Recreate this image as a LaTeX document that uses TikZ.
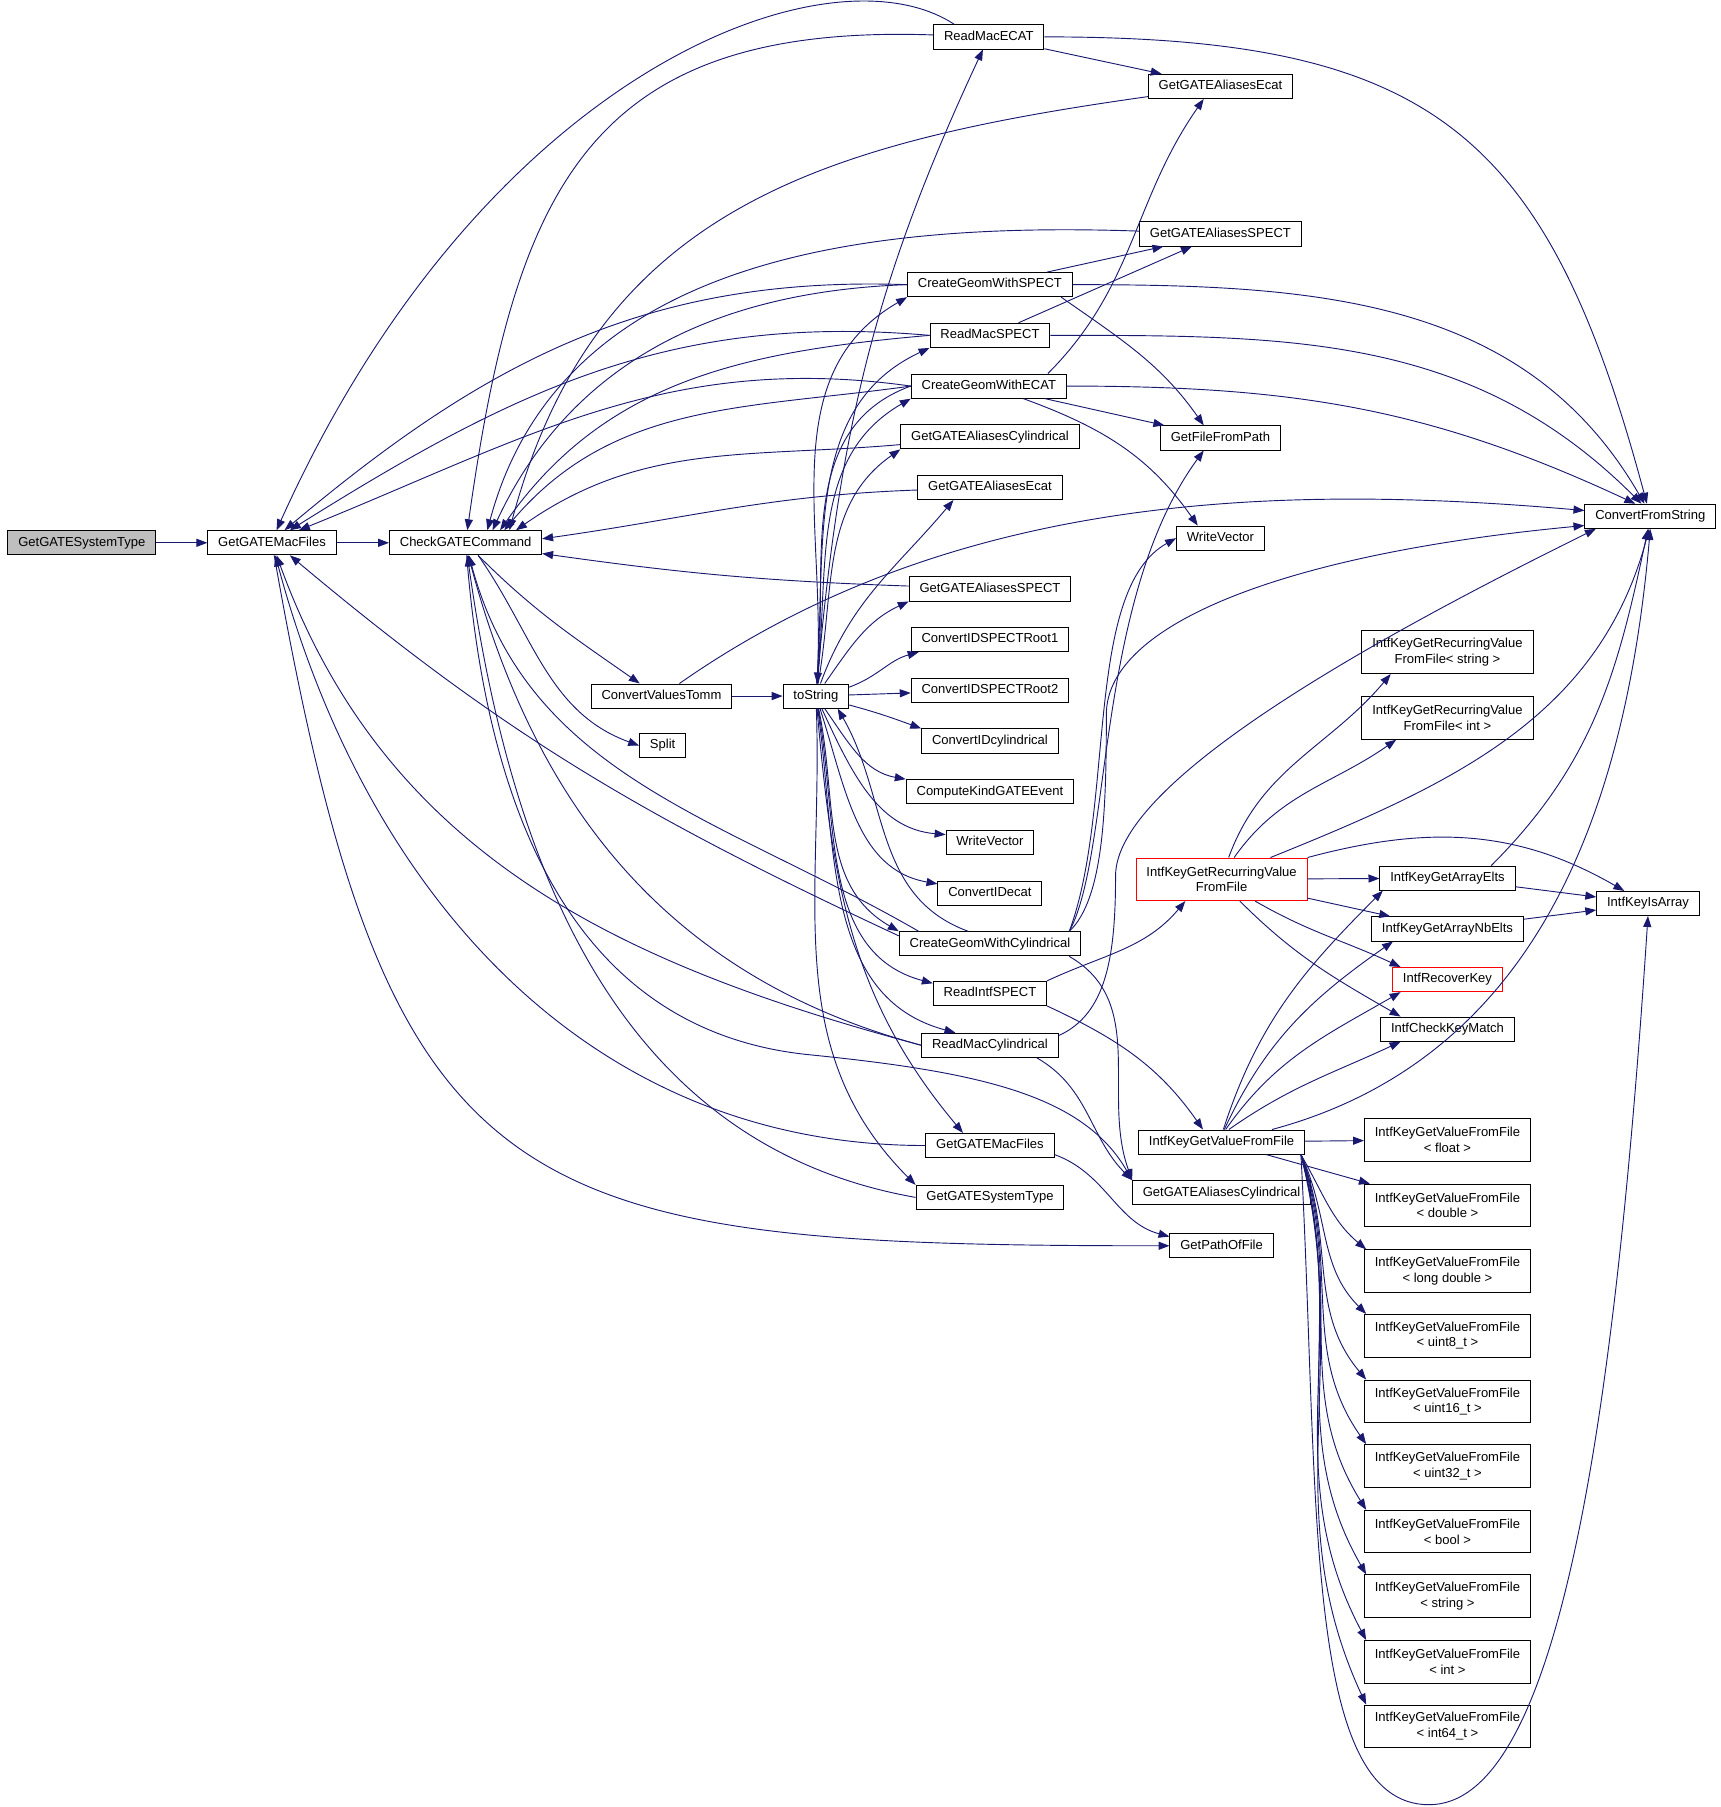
\documentclass[tikz,border=0pt]{standalone}
\usepackage{fontspec}
\setmainfont{Liberation Sans}
\usetikzlibrary{arrows.meta}
\definecolor{navy}{HTML}{191970}
\tikzset{
	-{Triangle[length=9.5pt,width=7pt]},
	every path/.style={line width=0.8pt},
	fn/.style={rectangle, draw, fill=white, inner xsep=9pt, minimum height=21pt, text height=8.2pt, text depth=2.4pt, font=\fontsize{11.3}{13.5}\selectfont},
	fntwo/.style={rectangle, draw, fill=white, inner xsep=9pt, minimum height=37pt, align=center, font=\fontsize{11.3}{13.5}\selectfont},
	root/.style={fn, fill=black!25},
	bad/.style={draw=red}
}

\begin{document}
\begin{tikzpicture}[x=1pt,y=1pt]
	\useasboundingbox (0,0) rectangle (1493,-1568);
	% Nodes
	\node[root] (1) at (71,-471) {GetGATESystemType};
	\node[fn] (2) at (236,-471) {GetGATEMacFiles};
	\node[fn] (3) at (404,-471) {CheckGATECommand};
	\node[fn] (4) at (858,-32) {ReadMacECAT};
	\node[fn] (5) at (1059,-75) {GetGATEAliasesEcat};
	\node[fn] (6) at (1059,-203) {GetGATEAliasesSPECT};
	\node[fn] (7) at (859,-247) {CreateGeomWithSPECT};
	\node[fn] (8) at (859,-291) {ReadMacSPECT};
	\node[fn] (9) at (858,-335) {CreateGeomWithECAT};
	\node[fn] (10) at (859,-379) {GetGATEAliasesCylindrical};
	\node[fn] (11) at (859,-423) {GetGATEAliasesEcat};
	\node[fn] (12) at (859,-511) {GetGATEAliasesSPECT};
	\node[fn] (13) at (859,-555) {ConvertIDSPECTRoot1};
	\node[fn] (14) at (859,-599) {ConvertIDSPECTRoot2};
	\node[fn] (15) at (859,-643) {ConvertIDcylindrical};
	\node[fn] (16) at (859,-687) {ComputeKindGATEEvent};
	\node[fn] (17) at (859,-731) {WriteVector};
	\node[fn] (18) at (859,-775) {ConvertIDecat};
	\node[fn] (19) at (859,-819) {CreateGeomWithCylindrical};
	\node[fn] (20) at (859,-862) {ReadIntfSPECT};
	\node[fn] (21) at (859,-907) {ReadMacCylindrical};
	\node[fn] (22) at (859,-994) {GetGATEMacFiles};
	\node[fn] (23) at (859,-1039) {GetGATESystemType};
	\node[fn] (24) at (574,-604) {ConvertValuesTomm};
	\node[fn] (25) at (708,-604) {toString};
	\node[fn] (26) at (575,-647) {Split};
	\node[fn] (27) at (1059,-380) {GetFileFromPath};
	\node[fn] (28) at (1059,-467) {WriteVector};
	\node[fn] (29) at (1432,-448) {ConvertFromString};
	\node[fntwo] (30) at (1256,-566) {IntfKeyGetRecurringValue\\FromFile< string >};
	\node[fntwo] (31) at (1256,-623) {IntfKeyGetRecurringValue\\FromFile< int >};
	\node[fntwo, bad] (32) at (1060,-763) {IntfKeyGetRecurringValue\\FromFile};
	\node[fn] (33) at (1256,-762) {IntfKeyGetArrayElts};
	\node[fn] (34) at (1430,-784) {IntfKeyIsArray};
	\node[fn] (35) at (1256,-806) {IntfKeyGetArrayNbElts};
	\node[fn, bad] (36) at (1256,-850) {IntfRecoverKey};
	\node[fn] (37) at (1256,-893) {IntfCheckKeyMatch};
	\node[fn] (38) at (1060,-991) {IntfKeyGetValueFromFile};
	\node[fn] (39) at (1060,-1035) {GetGATEAliasesCylindrical};
	\node[fn] (40) at (1060,-1081) {GetPathOfFile};
	\node[fntwo] (41) at (1256,-989) {IntfKeyGetValueFromFile\\< float >};
	\node[fntwo] (42) at (1256,-1046) {IntfKeyGetValueFromFile\\< double >};
	\node[fntwo] (43) at (1256,-1103) {IntfKeyGetValueFromFile\\< long double >};
	\node[fntwo] (44) at (1256,-1159) {IntfKeyGetValueFromFile\\< uint8\_t >};
	\node[fntwo] (45) at (1256,-1216) {IntfKeyGetValueFromFile\\< uint16\_t >};
	\node[fntwo] (46) at (1256,-1272) {IntfKeyGetValueFromFile\\< uint32\_t >};
	\node[fntwo] (47) at (1256,-1329) {IntfKeyGetValueFromFile\\< bool >};
	\node[fntwo] (48) at (1256,-1385) {IntfKeyGetValueFromFile\\< string >};
	\node[fntwo] (49) at (1256,-1442) {IntfKeyGetValueFromFile\\< int >};
	\node[fntwo] (50) at (1256,-1498) {IntfKeyGetValueFromFile\\< int64\_t >};

	% Left chain
	\path[navy] (1) edge (2);
	\path[navy] (2) edge (3);
	\path[navy] (3) edge[out=-45,in=145] (24.150);
	\path[navy] (3.-45) edge[out=-55,in=160] (26.west);
	\path[navy] (24) edge (25);
	\path[navy] (24.35) edge[out=35,in=175,looseness=0.9] (29.175);
	\path[navy] (2) edge[out=-80,in=180,looseness=1.5] (40);
	\draw[navy] (3.-85) .. controls (430,-800) and (560,-900) .. (700,-915) .. controls (850,-930) and (940,-950) .. (39.172);

	% toString fan
	\path[navy] (25) edge[out=85,in=-115] (4);
	\path[navy] (25) edge[out=86,in=-150] (7.south west);
	\path[navy] (25) edge[out=86,in=-155] (8.south west);
	\path[navy] (25) edge[out=84,in=-150] (9.south west);
	\path[navy] (25) edge[out=80,in=-145] (10.south west);
	\path[navy] (25) edge[out=70,in=-130] (11.-161);
	\path[navy] (25) edge[out=55,in=-155] (12.south west);
	\path[navy] (25.15) edge[out=20,in=-165] (13.-170);
	\path[navy] (25) edge (14);
	\path[navy] (25.-15) edge[out=-15,in=160] (15.north west);
	\path[navy] (25) edge[out=-55,in=170] (16.north west);
	\path[navy] (25) edge[out=-65,in=175] (17.170);
	\path[navy] (25) edge[out=-72,in=170] (18.170);
	\path[navy] (25) edge[out=-78,in=150] (19.north west);
	\path[navy] (25) edge[out=-80,in=165] (20.170);
	\path[navy] (25) edge[out=-82,in=165] (21.160);
	\path[navy] (25) edge[out=-85,in=130] (22.155);
	\path[navy] (25) edge[out=-88,in=135] (23.north west);
	\path[navy] (9.west) edge[out=200,in=85] (25);
	\path[navy] (19.150) edge[out=160,in=-60] (25.-30);

	% back to CheckGATECommand and GetGATEMacFiles
	\draw[navy] (4.160) .. controls (720,50) and (420,-60) .. (2.70);
	\path[navy] (4) edge[out=178,in=82,looseness=1.3] (3);
	\path[navy] (5) edge[out=188,in=75,looseness=1.1] (3.16);
	\path[navy] (6) edge[out=178,in=75] (3.30);
	\path[navy] (7.west) edge[out=182,in=65] (3.25);
	\path[navy] (8.west) edge[out=185,in=55] (3.20);
	\path[navy] (9.west) edge[out=188,in=50] (3.18);
	\path[navy] (10) edge[out=185,in=35] (3.14);
	\path[navy] (11) edge[out=182,in=8] (3.3);
	\path[navy] (12) edge[out=178,in=-8] (3.-8);
	\path[navy] (19.170) edge[out=150,in=-75] (3.-75);
	\path[navy] (21.west) edge[out=165,in=-75] (3.-78);
	\path[navy] (23.west) edge[out=170,in=-82] (3.-82);
	\path[navy] (7.west) edge[out=178,in=40] (2.45);
	\path[navy] (8.west) edge[out=175,in=32] (2.35);
	\path[navy] (9.west) edge[out=172,in=22] (2.25);
	\path[navy] (19.175) edge[out=155,in=-40] (2.-35);
	\path[navy] (21.west) edge[out=165,in=-70] (2.-70);
	\path[navy] (22.west) edge[out=180,in=-75] (2.-75);

	% to the right
	\path[navy] (4) edge (5);
	\path[navy] (4) edge[out=0,in=105,looseness=1.3] (29.105);
	\path[navy] (7) edge (6);
	\path[navy] (7) edge[out=0,in=120] (29.115);
	\path[navy] (7.-10) edge[out=-35,in=125] (27.143);
	\path[navy] (8) edge (6);
	\path[navy] (8) edge[out=0,in=135] (29.125);
	\path[navy] (9.12) edge[out=45,in=-125] (5.-143);
	\path[navy] (9) edge[out=0,in=155] (29.140);
	\path[navy] (9) edge (27);
	\path[navy] (9.-20) edge[out=-20,in=125] (28.151);
	\draw[navy] (19.9) .. controls (965,-740) and (950,-520) .. (27.-143);
	\draw[navy] (19.9) .. controls (968,-700) and (940,-512) .. (28.west);
	\draw[navy] (19.9) .. controls (958,-780) and (960,-700) .. (960,-620) .. controls (960,-540) and (1120,-480) .. (29.188);
	\path[navy] (19.-9) edge[out=-30,in=110] (39.172);
	\path[navy] (20.north east) edge[out=25,in=-130] (32.-149);
	\path[navy] (20.south east) edge[out=-25,in=125] (38.146);
	\draw[navy] (21.8) .. controls (960,-880) and (968,-830) .. (968,-760) .. controls (968,-680) and (1180,-560) .. (29.-167);
	\path[navy] (21.-15) edge[out=-30,in=135] (39.172);
	\path[navy] (22.-8) edge[out=-20,in=165] (40.170);

	% Intf keys
	\path[navy] (32.72) edge[out=70,in=-130] (30.-159);
	\path[navy] (32.60) edge[out=55,in=-145] (31.-157);
	\path[navy] (32.24) edge[out=22,in=-105] (29.-95);
	\path[navy] (32.north east) edge[out=15,in=150] (34.152);
	\path[navy] (32) edge (33);
	\path[navy] (32) edge (35);
	\path[navy] (32.-33) edge[out=-30,in=155] (36.165);
	\path[navy] (32.-50) edge[out=-45,in=150] (37.165);
	\path[navy] (33) edge (34);
	\path[navy] (33.16) edge[out=45,in=-102] (29.-100);
	\path[navy] (35) edge (34);
	\path[navy] (38.82) edge[out=72,in=-135] (33.-169);
	\path[navy] (38.78) edge[out=65,in=-145] (35.-167);
	\path[navy] (38.72) edge[out=55,in=-150] (36.-165);
	\path[navy] (38.60) edge[out=35,in=-155] (37.-165);
	\path[navy] (38.14) edge[out=15,in=-95] (29.-90);
	\path[navy] (38) edge (41);
	\path[navy] (38) edge (42);
	\path[navy] (38.-9) edge[out=-60,in=140] (43.165);
	\path[navy] (38.-9) edge[out=-65,in=135] (44.165);
	\path[navy] (38.-9) edge[out=-68,in=130] (45.165);
	\path[navy] (38.-9) edge[out=-70,in=125] (46.165);
	\path[navy] (38.-9) edge[out=-72,in=122] (47.165);
	\path[navy] (38.-9) edge[out=-74,in=120] (48.165);
	\path[navy] (38.-9) edge[out=-75,in=118] (49.165);
	\path[navy] (38.-9) edge[out=-76,in=115] (50.165);
	\draw[navy] (38.-9) .. controls (1145,-1300) and (1130,-1566) .. (1240,-1566) .. controls (1350,-1566) and (1400,-1250) .. (34.south);
\end{tikzpicture}
\end{document}
